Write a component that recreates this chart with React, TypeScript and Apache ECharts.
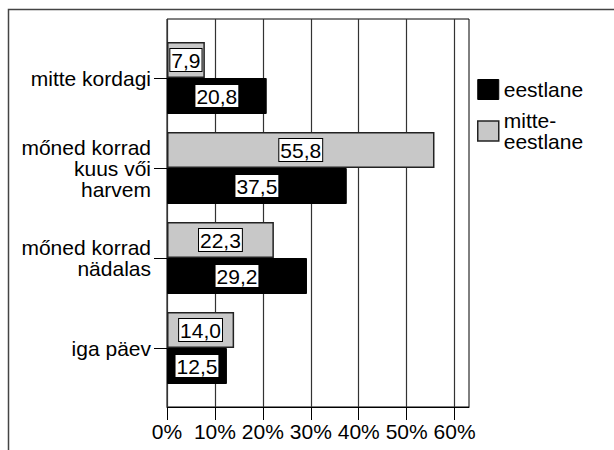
import React, { useEffect, useRef } from "react";
import * as echarts from "echarts";

const categories = [
  "mitte kordagi",
  "mőned korrad\nkuus vői\nharvem",
  "mőned korrad\nnädalas",
  "iga päev",
];
const seriesNames = ["eestlane", "mitte-\neestlane"];
const eestlane = [20.8, 37.5, 29.2, 12.5];
const mitteEestlane = [7.9, 55.8, 22.3, 14.0];
const xTicks = [0, 10, 20, 30, 40, 50, 60];
const xMax = 63;

const FONT = "'Liberation Sans', Arial, sans-serif";

export default function App() {
  const ref = useRef<HTMLDivElement>(null);
  useEffect(() => {
    if (!ref.current) return;
    const chart = echarts.init(ref.current, null, { renderer: "svg" });
    const fmt = (v: number) => v.toFixed(1).replace(".", ",");
    const label = {
      show: true,
      position: "inside",
      color: "#000",
      backgroundColor: "#fff",
      borderColor: "#000",
      borderWidth: 1,
      padding: [1, 1, 0, 1],
      fontSize: 21,
      fontFamily: FONT,
      formatter: (p: any) => fmt(p.value),
    };
    chart.setOption({
      animation: false,
      backgroundColor: "#fff",
      textStyle: { fontFamily: FONT },
      graphic: [
        {
          type: "rect",
          shape: { x: 8.5, y: 9.5, width: 640, height: 480 },
          style: { fill: "none", stroke: "#444", lineWidth: 1.5 },
          silent: true,
          z: -10,
        },
      ],
      legend: {
        orient: "vertical",
        left: 477,
        top: 79,
        padding: 0,
        itemWidth: 21,
        itemHeight: 20,
        itemGap: 10,
        icon: "rect",
        data: [
          { name: seriesNames[0], itemStyle: { color: "#000", borderColor: "#000", borderWidth: 1 } },
          { name: seriesNames[1], itemStyle: { color: "#c8c8c8", borderColor: "#222", borderWidth: 1.5 } },
        ],
        textStyle: { fontSize: 21, lineHeight: 21, color: "#000", fontFamily: FONT },
        selectedMode: false,
      },
      grid: [
        { left: 167, right: 145, top: 19, bottom: 43, show: true, borderColor: "#000", borderWidth: 1, containLabel: false },
        { left: 167, right: 145, top: 33, bottom: 57, containLabel: false },
      ],
      xAxis: [
        {
          type: "value",
          gridIndex: 0,
          min: 0,
          max: xMax,
          interval: 10,
          axisLine: { show: true, lineStyle: { color: "#000", width: 1 } },
          axisTick: { show: true, length: 13, lineStyle: { color: "#000" }, customValues: xTicks },
          axisLabel: {
            customValues: xTicks,
            formatter: (v: number) => v + "%",
            fontSize: 21,
            color: "#000",
            margin: 14,
            fontFamily: FONT,
          },
          splitLine: { show: true, lineStyle: { color: "#333", width: 1.2 } },
        },
        { type: "value", gridIndex: 1, min: 0, max: xMax, show: false },
      ],
      yAxis: [
        { type: "value", gridIndex: 0, show: false },
        {
          type: "category",
          gridIndex: 1,
          inverse: true,
          data: categories,
          axisLine: { show: false },
          axisTick: { show: true, alignWithLabel: true, length: 13, lineStyle: { color: "#000" } },
          axisLabel: { fontSize: 21, lineHeight: 21, color: "#000", margin: 16, fontFamily: FONT, align: "right" },
        },
      ],
      series: [
        {
          name: seriesNames[1],
          type: "bar",
          xAxisIndex: 1,
          yAxisIndex: 1,
          data: mitteEestlane,
          barGap: "0%",
          barCategoryGap: "20%",
          itemStyle: { color: "#c8c8c8", borderColor: "#222", borderWidth: 1.5 },
          label,
        },
        {
          name: seriesNames[0],
          type: "bar",
          xAxisIndex: 1,
          yAxisIndex: 1,
          data: eestlane,
          barGap: "0%",
          barCategoryGap: "20%",
          itemStyle: { color: "#000", borderColor: "#000", borderWidth: 1 },
          label,
        },
      ],
    });
    return () => chart.dispose();
  }, []);
  return (
    <div
      ref={ref}
      style={{ position: "fixed", left: 0, top: 0, width: 614, height: 450, background: "#fff" }}
    />
  );
}
